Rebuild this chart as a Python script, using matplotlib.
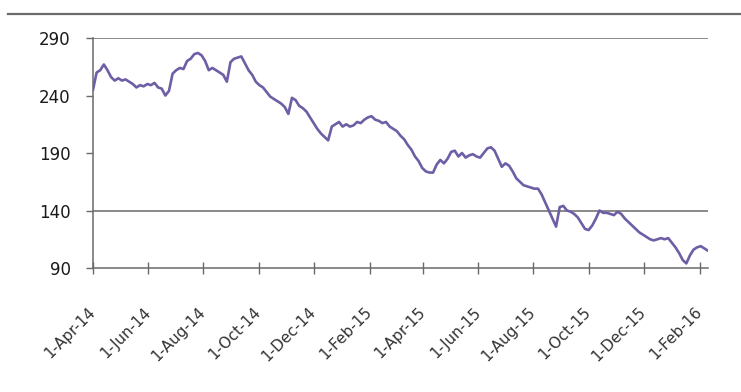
import matplotlib
matplotlib.use("Agg")
import matplotlib.pyplot as plt
from matplotlib.lines import Line2D
import pandas as pd

# Index level sampled every 4 days from 1 Apr 2014
start_date = "2014-04-01"
step_days = 4
index_values = [
    245, 260, 262, 267, 262, 256, 253, 255, 253, 254,
    252, 250, 247, 249, 248, 250, 249, 251, 247, 246,
    240, 244, 259, 262, 264, 263, 270, 272, 276, 277,
    275, 270, 262, 264, 262, 260, 258, 252, 269, 272,
    273, 274, 268, 262, 258, 252, 249, 247, 243, 239,
    237, 235, 233, 230, 224, 238, 236, 231, 229, 226,
    221, 216, 211, 207, 204, 201, 213, 215, 217, 213,
    215, 213, 214, 217, 216, 219, 221, 222, 219, 218,
    216, 217, 213, 211, 209, 205, 202, 197, 193, 187,
    183, 177, 174, 173, 173, 180, 184, 181, 185, 191,
    192, 187, 190, 186, 188, 189, 187, 186, 190, 194,
    195, 192, 185, 178, 181, 179, 174, 168, 165, 162,
    161, 160, 159, 159, 154, 147, 140, 133, 126, 143,
    144, 140, 139, 137, 134, 129, 124, 123, 127, 133,
    140, 138, 138, 137, 136, 139, 137, 133, 130, 127,
    124, 121, 119, 117, 115, 114, 115, 116, 115, 116,
    112, 108, 103, 97, 94, 101, 106, 108, 109, 107,
    105,
]

tick_dates = ["2014-04-01", "2014-06-01", "2014-08-01", "2014-10-01",
              "2014-12-01", "2015-02-01", "2015-04-01", "2015-06-01",
              "2015-08-01", "2015-10-01", "2015-12-01", "2016-02-01"]
tick_labels = ["1-Apr-14", "1-Jun-14", "1-Aug-14", "1-Oct-14", "1-Dec-14",
               "1-Feb-15", "1-Apr-15", "1-Jun-15", "1-Aug-15", "1-Oct-15",
               "1-Dec-15", "1-Feb-16"]
y_ticks = [90, 140, 190, 240, 290]
grid_levels = [140, 290]

dates = pd.date_range(start_date, periods=len(index_values), freq=f"{step_days}D")

fig = plt.figure(figsize=(7.41, 3.92), dpi=100)
ax = fig.add_axes([0.1255, 0.3163, 0.830, 0.5867])

ax.plot(dates, index_values, color="#6e5ea6", linewidth=1.9, solid_joinstyle="round")

for lvl in grid_levels:
    ax.axhline(lvl, color="#6a6a6a", linewidth=1.1, zorder=0)

ax.set_ylim(90, 290)
ax.set_yticks(y_ticks)
ax.set_yticklabels([str(v) for v in y_ticks])
ax.set_xlim(pd.Timestamp("2014-04-01"), pd.Timestamp("2016-02-10"))
ax.set_xticks(pd.to_datetime(tick_dates))
ax.set_xticklabels(tick_labels, rotation=45, ha="right", va="center",
                   rotation_mode="anchor")

for side in ("top", "right"):
    ax.spines[side].set_visible(False)
for side in ("left", "bottom"):
    ax.spines[side].set_color("#6a6a6a")
    ax.spines[side].set_linewidth(1.1)

ax.tick_params(axis="y", direction="out", length=5, width=1, color="#6a6a6a",
               pad=11, labelsize=12, labelcolor="#1a1a1a")
ax.tick_params(axis="x", direction="inout", length=8, width=1, color="#6a6a6a",
               pad=26, labelsize=11, labelcolor="#333333")

# separator rule across the top
fig.add_artist(Line2D([8 / 741, 1.0], [1 - 14 / 392, 1 - 14 / 392],
                      color="#6a6a6a", linewidth=1.6, transform=fig.transFigure))

fig.savefig("out.png", dpi=100, facecolor="white")
